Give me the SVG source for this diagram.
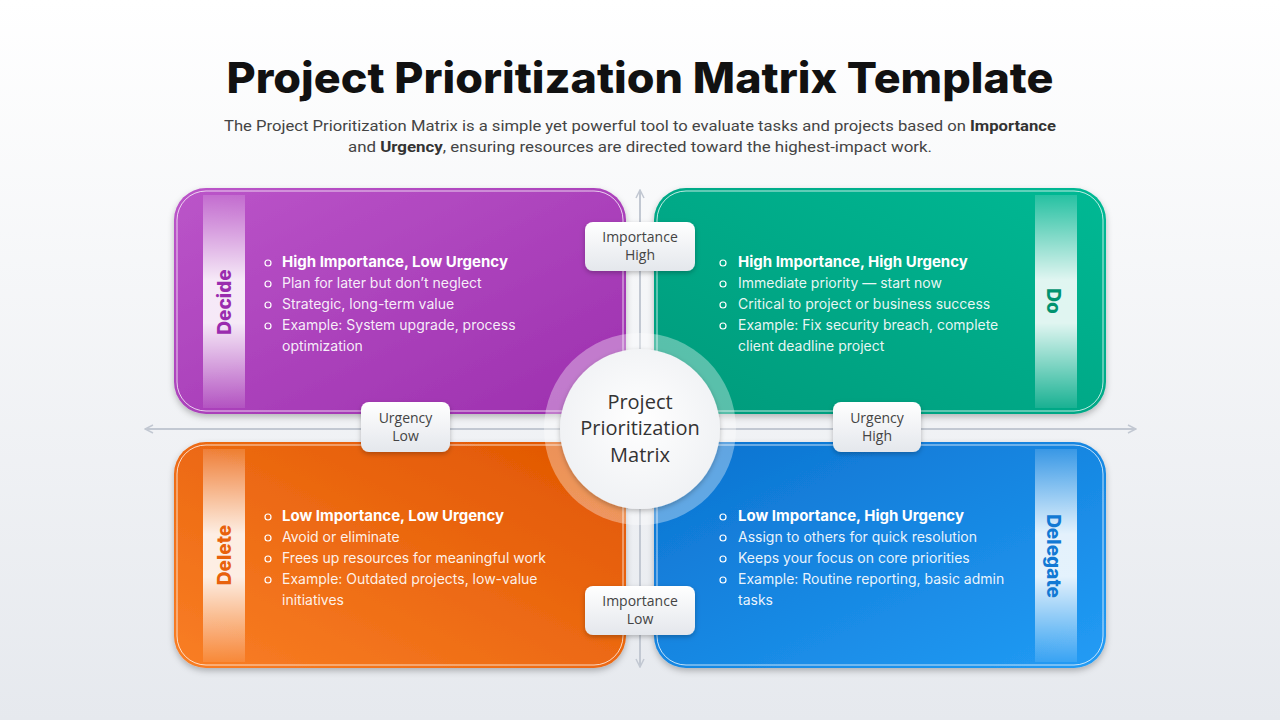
<svg xmlns="http://www.w3.org/2000/svg" width="1280" height="720" viewBox="0 0 1280 720">
<defs>
<linearGradient id="bg" x1="0" y1="0" x2="0" y2="1"><stop offset="0" stop-color="#ffffff"/><stop offset="1" stop-color="#e6e9ee"/></linearGradient>
<linearGradient id="gP" x1="0" y1="0" x2="1" y2="1"><stop offset="0" stop-color="#bb55c9"/><stop offset="1" stop-color="#9c2fae"/></linearGradient>
<linearGradient id="gG" x1="0" y1="1" x2="1" y2="0"><stop offset="0" stop-color="#009a7b"/><stop offset="1" stop-color="#00b994"/></linearGradient>
<linearGradient id="gO" x1="0" y1="1" x2="1" y2="0"><stop offset="0" stop-color="#f97e25"/><stop offset="1" stop-color="#e05500"/></linearGradient>
<linearGradient id="gB" x1="0" y1="0" x2="1" y2="1"><stop offset="0" stop-color="#0c72cf"/><stop offset="1" stop-color="#229cf5"/></linearGradient>
<linearGradient id="strip" x1="0" y1="0" x2="0" y2="1"><stop offset="0" stop-color="#fff" stop-opacity="0.15"/><stop offset="0.4" stop-color="#fff" stop-opacity="0.88"/><stop offset="0.6" stop-color="#fff" stop-opacity="0.88"/><stop offset="1" stop-color="#fff" stop-opacity="0.1"/></linearGradient>
<linearGradient id="lbl" x1="0" y1="0" x2="0" y2="1"><stop offset="0" stop-color="#ffffff"/><stop offset="1" stop-color="#e4e7ec"/></linearGradient>
<radialGradient id="ctr" cx="0.5" cy="0.45" r="0.6"><stop offset="0" stop-color="#ffffff"/><stop offset="1" stop-color="#eef0f3"/></radialGradient>
<filter id="sh" x="-10%" y="-10%" width="120%" height="130%"><feDropShadow dx="0" dy="3" stdDeviation="3" flood-color="#000" flood-opacity="0.25"/></filter>
<filter id="sh2" x="-20%" y="-20%" width="140%" height="150%"><feDropShadow dx="0" dy="2" stdDeviation="2.5" flood-color="#000" flood-opacity="0.25"/></filter>
<marker id="ah" viewBox="0 0 10 10" refX="9" refY="5" markerWidth="10" markerHeight="10" markerUnits="userSpaceOnUse" orient="auto-start-reverse"><path d="M1,1 L9,5 L1,9" fill="none" stroke="#c2c8d2" stroke-width="1.5"/></marker>
</defs>
<style>
.title{font-family:Inter,"Liberation Sans",sans-serif;font-weight:800;font-size:42px;fill:#111}
.sub{font-family:Roboto,"Liberation Sans",sans-serif;font-size:15px;fill:#444}
.b{font-weight:700;fill:#333}
.hd{font-family:Inter,"Liberation Sans",sans-serif;font-weight:700;font-size:15px;fill:#fff}
.tx{font-family:Inter,"Liberation Sans",sans-serif;font-size:14px;fill:#fff;fill-opacity:0.92}
.bul{fill:none;stroke:#fff;stroke-width:1.2}
.vl{font-family:Inter,"Liberation Sans",sans-serif;font-weight:800;font-size:19px;text-anchor:middle}
.lb{font-family:"Open Sans","Liberation Sans",sans-serif;font-size:14px;fill:#444;text-anchor:middle}
.ct{font-family:"Open Sans","Liberation Sans",sans-serif;font-size:20px;fill:#333;text-anchor:middle}
.edge{fill:none;stroke:#fff;stroke-opacity:0.75;stroke-width:1}
.ax{stroke:#c2c8d2;stroke-width:2;fill:none}
</style>
<rect width="1280" height="720" fill="url(#bg)"/>
<text class="title" x="640" y="93" text-anchor="middle" textLength="827" lengthAdjust="spacingAndGlyphs">Project Prioritization Matrix Template</text>
<text class="sub" x="640" y="131" text-anchor="middle" textLength="832" lengthAdjust="spacingAndGlyphs">The Project Prioritization Matrix is a simple yet powerful tool to evaluate tasks and projects based on <tspan class="b">Importance</tspan></text>
<text class="sub" x="640" y="152" text-anchor="middle" textLength="584" lengthAdjust="spacingAndGlyphs">and <tspan class="b">Urgency</tspan>, ensuring resources are directed toward the highest-impact work.</text>

<g id="connectors">
<line class="ax" x1="145" y1="429" x2="1136" y2="429" marker-start="url(#ah)" marker-end="url(#ah)"/>
<line class="ax" x1="640" y1="190" x2="640" y2="667" marker-start="url(#ah)" marker-end="url(#ah)"/>
</g>

<g id="decide">
<rect x="174" y="188" width="452" height="226" rx="32" fill="url(#gP)" filter="url(#sh)"/>
<rect x="177" y="191" width="446" height="220" rx="29" class="edge"/>
<rect x="203" y="195" width="42" height="213" fill="url(#strip)"/>
<text class="vl" transform="translate(231,302) rotate(-90)" fill="#9a2cae">Decide</text>
<circle class="bul" cx="268" cy="263" r="3"/><text class="hd" x="282" y="267">High Importance, Low Urgency</text>
<circle class="bul" cx="268" cy="284" r="3"/><text class="tx" x="282" y="288">Plan for later but don’t neglect</text>
<circle class="bul" cx="268" cy="305" r="3"/><text class="tx" x="282" y="309">Strategic, long-term value</text>
<circle class="bul" cx="268" cy="326" r="3"/><text class="tx" x="282" y="330">Example: System upgrade, process</text>
<text class="tx" x="282" y="351">optimization</text>
</g>

<g id="do">
<rect x="654" y="188" width="452" height="226" rx="32" fill="url(#gG)" filter="url(#sh)"/>
<rect x="657" y="191" width="446" height="220" rx="29" class="edge"/>
<rect x="1035" y="195" width="42" height="213" fill="url(#strip)"/>
<text class="vl" transform="translate(1047,301) rotate(90)" fill="#00936f">Do</text>
<circle class="bul" cx="723" cy="263" r="3"/><text class="hd" x="738" y="267">High Importance, High Urgency</text>
<circle class="bul" cx="723" cy="284" r="3"/><text class="tx" x="738" y="288">Immediate priority — start now</text>
<circle class="bul" cx="723" cy="305" r="3"/><text class="tx" x="738" y="309">Critical to project or business success</text>
<circle class="bul" cx="723" cy="326" r="3"/><text class="tx" x="738" y="330">Example: Fix security breach, complete</text>
<text class="tx" x="738" y="351">client deadline project</text>
</g>

<g id="delete">
<rect x="174" y="442" width="452" height="226" rx="32" fill="url(#gO)" filter="url(#sh)"/>
<rect x="177" y="445" width="446" height="220" rx="29" class="edge"/>
<rect x="203" y="449" width="42" height="213" fill="url(#strip)"/>
<text class="vl" transform="translate(231,555) rotate(-90)" fill="#e8620c">Delete</text>
<circle class="bul" cx="268" cy="517" r="3"/><text class="hd" x="282" y="521">Low Importance, Low Urgency</text>
<circle class="bul" cx="268" cy="538" r="3"/><text class="tx" x="282" y="542">Avoid or eliminate</text>
<circle class="bul" cx="268" cy="559" r="3"/><text class="tx" x="282" y="563">Frees up resources for meaningful work</text>
<circle class="bul" cx="268" cy="580" r="3"/><text class="tx" x="282" y="584">Example: Outdated projects, low-value</text>
<text class="tx" x="282" y="605">initiatives</text>
</g>

<g id="delegate">
<rect x="654" y="442" width="452" height="226" rx="32" fill="url(#gB)" filter="url(#sh)"/>
<rect x="657" y="445" width="446" height="220" rx="29" class="edge"/>
<rect x="1035" y="449" width="42" height="213" fill="url(#strip)"/>
<text class="vl" transform="translate(1047,556) rotate(90)" fill="#1279d4">Delegate</text>
<circle class="bul" cx="723" cy="517" r="3"/><text class="hd" x="738" y="521">Low Importance, High Urgency</text>
<circle class="bul" cx="723" cy="538" r="3"/><text class="tx" x="738" y="542">Assign to others for quick resolution</text>
<circle class="bul" cx="723" cy="559" r="3"/><text class="tx" x="738" y="563">Keeps your focus on core priorities</text>
<circle class="bul" cx="723" cy="580" r="3"/><text class="tx" x="738" y="584">Example: Routine reporting, basic admin</text>
<text class="tx" x="738" y="605">tasks</text>
</g>

<g id="center">
<circle cx="640" cy="429" r="96" fill="#ffffff" fill-opacity="0.35"/>
<circle cx="640" cy="429" r="80" fill="url(#ctr)" filter="url(#sh2)"/>
<text class="ct" x="640" y="409">Project</text>
<text class="ct" x="640" y="435">Prioritization</text>
<text class="ct" x="640" y="462">Matrix</text>
</g>

<g id="imp-high">
<rect x="585" y="222" width="110" height="49" rx="8" fill="url(#lbl)" filter="url(#sh2)"/>
<text class="lb" x="640" y="242">Importance</text><text class="lb" x="640" y="260">High</text>
</g>
<g id="imp-low">
<rect x="585" y="586" width="110" height="49" rx="8" fill="url(#lbl)" filter="url(#sh2)"/>
<text class="lb" x="640" y="606">Importance</text><text class="lb" x="640" y="624">Low</text>
</g>
<g id="urg-low">
<rect x="361" y="402" width="89" height="50" rx="8" fill="url(#lbl)" filter="url(#sh2)"/>
<text class="lb" x="405.5" y="423">Urgency</text><text class="lb" x="405.5" y="441">Low</text>
</g>
<g id="urg-high">
<rect x="833" y="402" width="88" height="50" rx="8" fill="url(#lbl)" filter="url(#sh2)"/>
<text class="lb" x="877" y="423">Urgency</text><text class="lb" x="877" y="441">High</text>
</g>
</svg>
